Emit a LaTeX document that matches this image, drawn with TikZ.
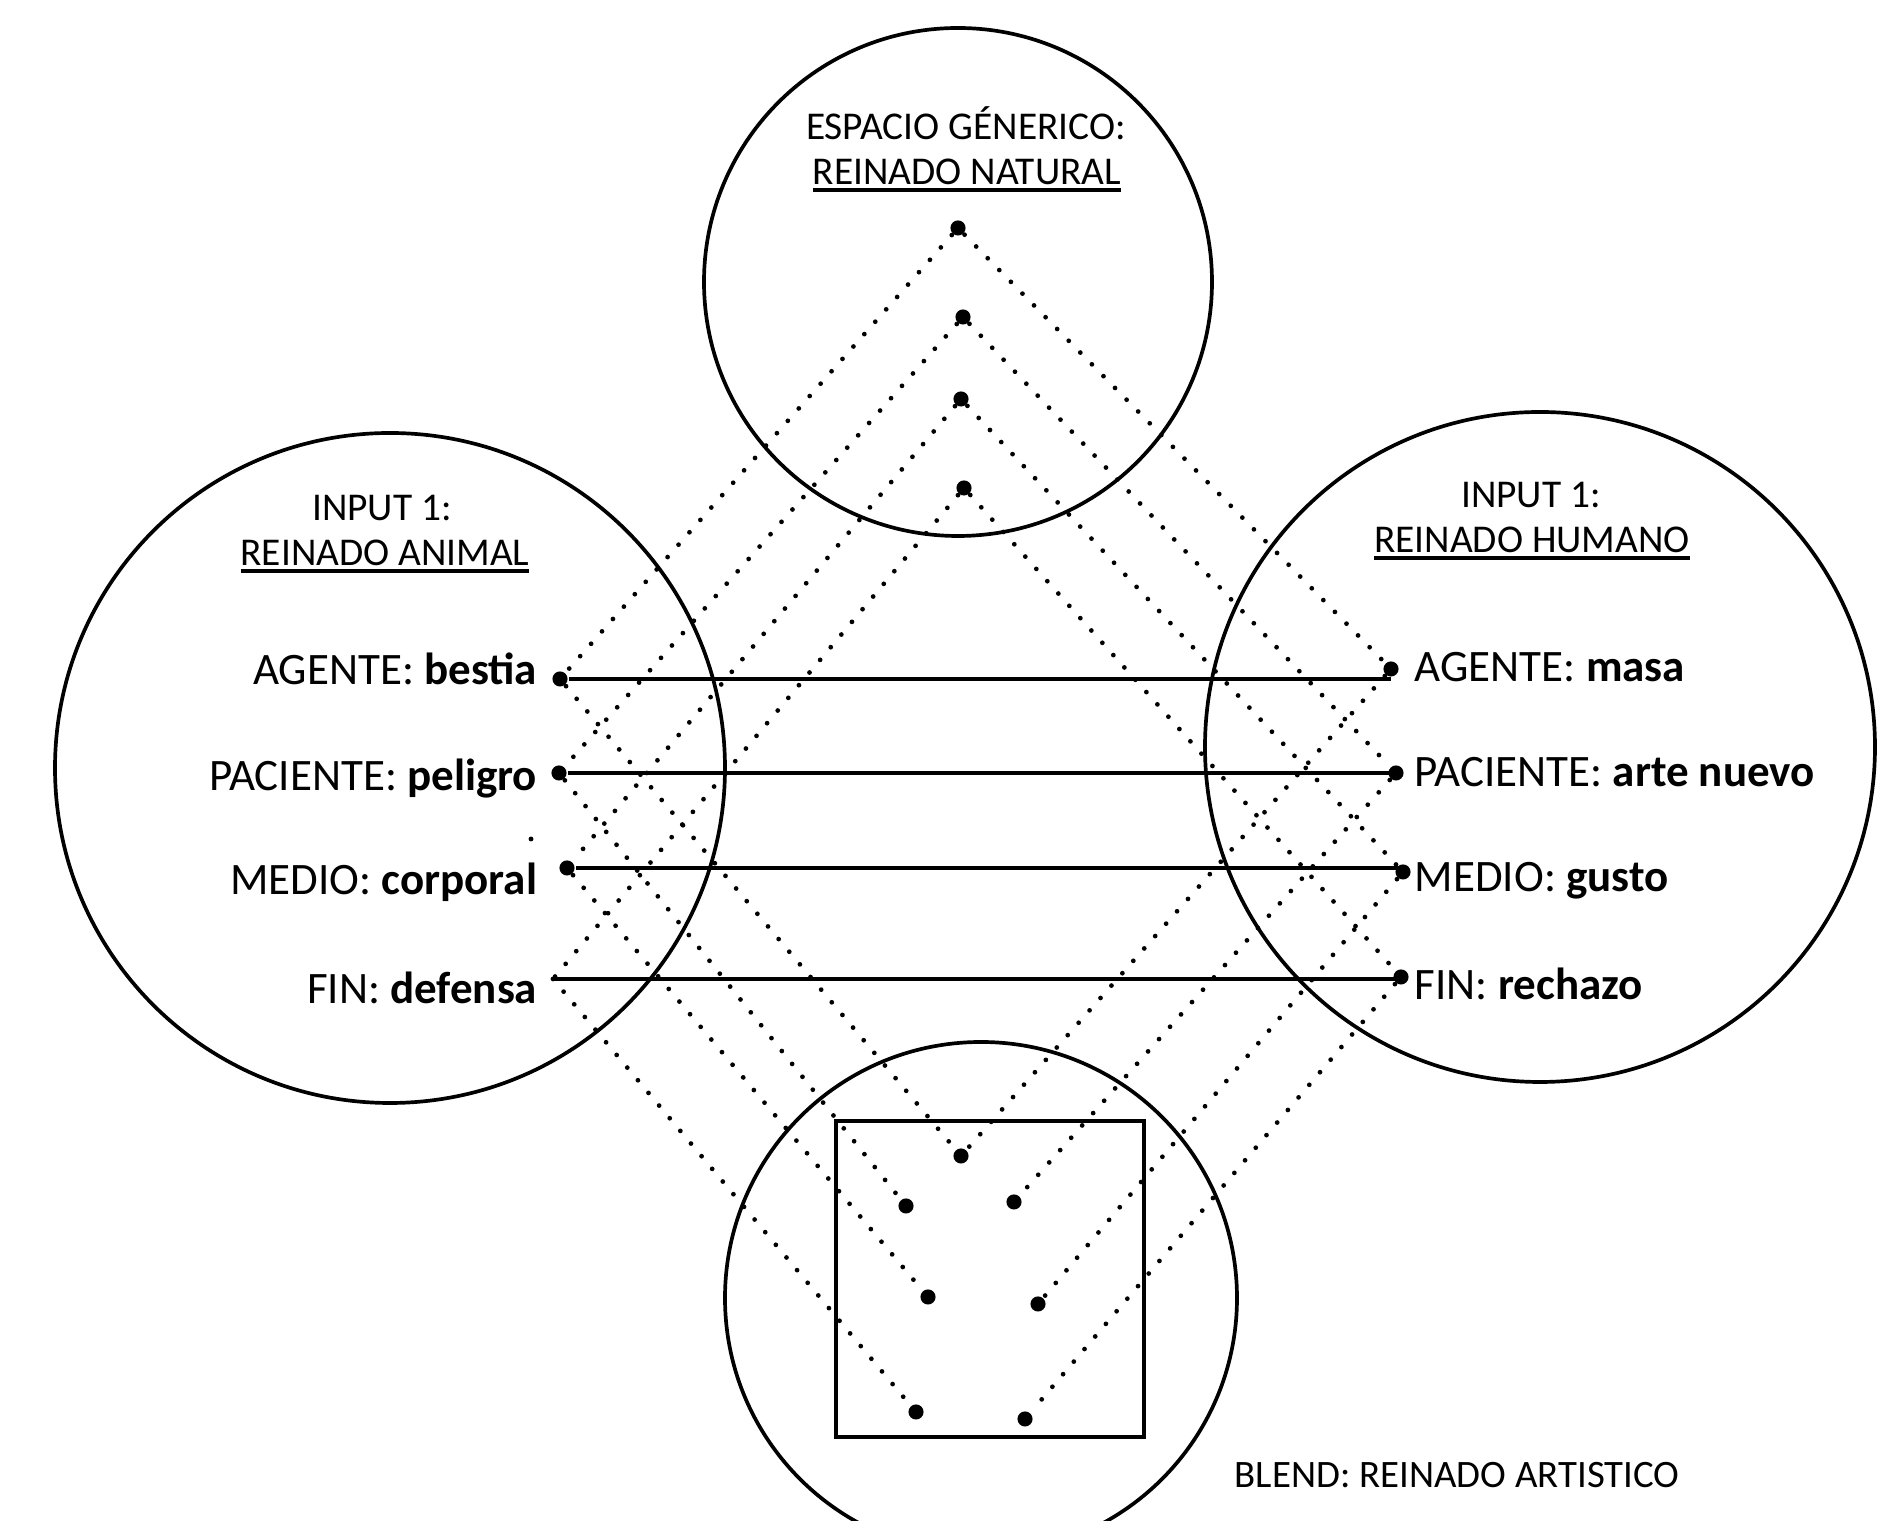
\documentclass[tikz,border=0pt]{standalone}
\usepackage{fontspec}
\setmainfont{Carlito}
\usetikzlibrary{positioning}
\newcommand{\ulbar}[1]{\setbox0\hbox{#1}\rlap{\rule[-1.9pt]{\wd0}{0.9pt}}\box0}

\begin{document}
\begin{tikzpicture}[line width=1.05pt,
  pt/.style={circle,fill,inner sep=0pt,minimum size=4.3pt},
  dots/.style={line width=1.35pt,dash pattern=on 0pt off 4.7pt,line cap=round},
  head/.style={inner sep=0pt,anchor=base,font=\fontsize{11.2}{13}\selectfont},
  lab/.style={inner sep=0pt,font=\fontsize{12.8}{15}\selectfont}]
\useasboundingbox (0,0) rectangle (18.78,15.21);
\draw (9.58,12.39) circle (2.54);
\draw (3.90,7.53) circle (3.35);
\draw (15.40,7.74) circle (3.35);
\draw (9.81,2.23) circle (2.56);
\draw (8.36,0.84) rectangle (11.44,4.00);
\node[pt] (g1) at (9.58,12.93) {};
\node[pt] (g2) at (9.63,12.04) {};
\node[pt] (g3) at (9.61,11.22) {};
\node[pt] (g4) at (9.64,10.33) {};
\node[pt] (la) at (5.60,8.42) {};
\node[pt] (lp) at (5.59,7.48) {};
\node[pt] (lm) at (5.67,6.53) {};
\coordinate (lf) at (5.53,5.42);
\node[pt] (ra) at (13.91,8.52) {};
\node[pt] (rp) at (13.96,7.48) {};
\node[pt] (rm) at (14.03,6.49) {};
\node[pt] (rf) at (14.01,5.44) {};
\node[pt] (b1) at (9.61,3.65) {};
\node[pt] (b2) at (9.06,3.15) {};
\node[pt] (b3) at (10.14,3.19) {};
\node[pt] (b4) at (9.28,2.24) {};
\node[pt] (b5) at (10.38,2.17) {};
\node[pt] (b6) at (9.16,1.09) {};
\node[pt] (b7) at (10.25,1.02) {};
\fill (5.31,6.82) circle (0.7pt);
\foreach \a/\b in {g1/la,g2/lp,g3/lm,g4/lf,g1/ra,g2/rp,g3/rm,g4/rf,
  la/b1,lp/b2,lm/b4,lf/b6,ra/b1,rp/b3,rm/b5,rf/b7}
  \draw[dots] (\a) -- (\b);
\draw (la) -- (la -| ra);
\draw (lp) -- (lp -| rp);
\draw (lm) -- (lm -| rm);
\draw (lf) -- (lf -| rf);
\node[head] (gen) at (9.66,13.81) {ESPACIO GÉNERICO:};
\node[head] (gen2) at (9.67,13.36) {\ulbar{REINADO NATURAL}};
\node[head] (in1) at (3.82,10.00) {INPUT 1:};
\node[head] (in1b) at (3.85,9.55) {\ulbar{REINADO ANIMAL}};
\node[head] (in2) at (15.31,10.13) {INPUT 1:};
\node[head] (in2b) at (15.32,9.68) {\ulbar{REINADO HUMANO}};
\node[lab,anchor=base east] (lta) at (5.39,8.36) {AGENTE: \textbf{bestia}};
\node[lab,anchor=base east] (ltp) at (5.39,7.30) {PACIENTE: \textbf{peligro}};
\node[lab,anchor=base east] (ltm) at (5.39,6.26) {MEDIO: \textbf{corporal}};
\node[lab,anchor=base east] (ltf) at (5.39,5.17) {FIN: \textbf{defensa}};
\node[lab,anchor=base west] (rta) at (14.13,8.39) {AGENTE: \textbf{masa}};
\node[lab,anchor=base west] (rtp) at (14.13,7.34) {PACIENTE: \textbf{arte nuevo}};
\node[lab,anchor=base west] (rtm) at (14.13,6.29) {MEDIO: \textbf{gusto}};
\node[lab,anchor=base west] (rtf) at (14.13,5.21) {FIN: \textbf{rechazo}};
\node[head,anchor=base west,font=\fontsize{11.05}{13}\selectfont] (bl) at (12.33,0.33) {BLEND: REINADO ARTISTICO};
\end{tikzpicture}
\end{document}
